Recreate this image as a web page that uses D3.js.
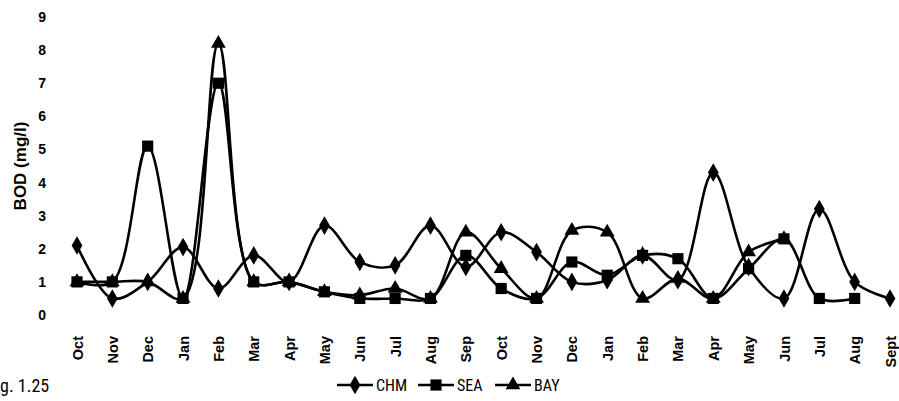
<!DOCTYPE html>
<html><head><meta charset="utf-8">
<script src="https://cdn.jsdelivr.net/npm/d3@7"></script>
<style>
body{margin:0;background:#fff;}
svg{display:block;}
</style></head>
<body>
<svg id="c" width="899" height="401"></svg>
<script>
const months = ["Oct","Nov","Dec","Jan","Feb","Mar","Apr","May","Jun","Jul","Aug","Sep","Oct","Nov","Dec","Jan","Feb","Mar","Apr","May","Jun","Jul","Aug","Sept"];
const yTicks = [0,1,2,3,4,5,6,7,8,9];
const chm = [2.1,0.5,1.0,2.05,0.8,1.8,1.0,2.7,1.6,1.5,2.7,1.45,2.5,1.9,1.0,1.05,1.8,1.05,4.3,1.45,0.5,3.2,1.0,0.5];
const sea = [1.0,1.0,5.1,0.5,7.0,1.0,1.0,0.7,0.5,0.5,0.5,1.8,0.8,0.5,1.6,1.2,1.8,1.7,0.5,1.4,2.3,0.5,0.5,null];
const bay = [1.0,1.0,1.0,0.5,8.2,1.0,1.0,0.7,0.6,0.8,0.5,2.5,1.4,0.5,2.55,2.5,0.5,1.1,0.5,1.9,2.3,null,null,null];
const seriesNames = ["CHM","SEA","BAY"];
const yTitle = "BOD (mg/l)";
const figLabel = "g. 1.25";

const svg = d3.select("#c");
const x = d3.scalePoint().domain(d3.range(months.length)).range([77, 890]);
const y = d3.scaleLinear().domain([0, 9]).range([315, 17]);

const symbols = [
  d3.symbol().type(d3.symbolDiamond).size(100),
  d3.symbol().type(d3.symbolSquare).size(125),
  d3.symbol().type(d3.symbolTriangle).size(95)
];
const data = [chm, sea, bay];
const fontMain = "Arial, 'Liberation Sans', sans-serif";
const fontNarrow = "'Liberation Sans Narrow', 'Arial Narrow', 'Roboto Condensed', Arial, sans-serif";

// Y axis labels
const yAxis = d3.axisLeft(y).tickValues(yTicks).tickSize(0).tickPadding(0).tickFormat(d3.format("d"));
const gy = svg.append("g").attr("transform", "translate(46,0)").call(yAxis);
gy.select(".domain").remove();
gy.selectAll("text").attr("font-family", fontMain)
  .attr("font-weight", "bold").attr("font-size", 14).attr("fill", "#000");

// X axis labels
const xAxis = d3.axisBottom(x).tickSize(0).tickPadding(0).tickFormat(i => months[i]);
const gx = svg.append("g").attr("transform", "translate(0,336)").call(xAxis);
gx.select(".domain").remove();
gx.selectAll("text")
  .attr("transform", "rotate(-90)")
  .attr("x", 0).attr("y", 0).attr("dy", "0.35em")
  .style("text-anchor", "end")
  .attr("font-family", fontMain)
  .attr("font-weight", "bold").attr("font-size", 14.5).attr("fill", "#000");

// Y title
svg.append("text")
  .attr("transform", "translate(20,166) rotate(-90)")
  .attr("text-anchor", "middle")
  .attr("dy", "0.35em")
  .attr("font-family", fontMain)
  .attr("font-weight", "bold").attr("font-size", 17).attr("fill", "#000")
  .text(yTitle);

// Lines
const line = d3.line()
  .defined(d => d != null)
  .x((d, i) => x(i)).y(d => y(d))
  .curve(d3.curveCatmullRom.alpha(0.5));

data.forEach((s, k) => {
  svg.append("path").datum(s)
    .attr("d", line)
    .attr("fill", "none").attr("stroke", "#000").attr("stroke-width", 2.6);
});
data.forEach((s, k) => {
  svg.append("g").selectAll("path")
    .data(s.map((v, i) => ({v, i})).filter(d => d.v != null))
    .join("path")
    .attr("transform", d => `translate(${x(d.i)},${y(d.v)})`)
    .attr("d", symbols[k])
    .attr("fill", "#000");
});

// Figure label
svg.append("text")
  .attr("x", 0).attr("y", 392)
  .attr("font-family", fontNarrow)
  .attr("font-size", 18).attr("fill", "#000")
  .text(figLabel);

// Legend
const legX = [337, 418, 495];
seriesNames.forEach((n, k) => {
  const g = svg.append("g").attr("transform", `translate(${legX[k]},385)`);
  g.append("line").attr("x1", 0).attr("x2", 36).attr("y1", 0).attr("y2", 0)
    .attr("stroke", "#000").attr("stroke-width", 2.6);
  g.append("path").attr("transform", "translate(18,0)").attr("d", symbols[k]).attr("fill", "#000");
  g.append("text").attr("x", 39).attr("y", 0).attr("dy", "0.36em")
    .attr("font-family", fontNarrow)
    .attr("font-size", 16).attr("fill", "#000")
    .text(n);
});
</script>
</body></html>
